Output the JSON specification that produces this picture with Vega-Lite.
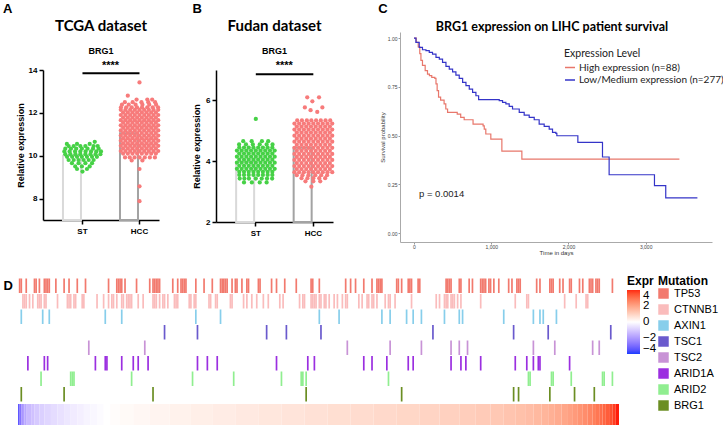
{
"$schema":"https://vega.github.io/schema/vega-lite/v6.json",
"background":"white",
"padding":{"left":3,"top":2,"right":0,"bottom":0},
"config":{"view":{"stroke":null},"font":"Liberation Sans","title":{"color":"black"}},
"datasets":{
"barsA":[{"g":"ST","v":10.0},{"g":"HCC","v":11.05}],
"ptsA":[
{"g":"ST","v":10.65,"d":[0.63]},
{"g":"ST","v":10.55,"d":[-0.8,-0.28,0.37]},
{"g":"ST","v":10.45,"d":[-0.71,-0.45,-0.11,0.15,0.57,0.78]},
{"g":"ST","v":10.33,"d":[-0.88,-0.59,-0.32,-0.03,0.26,0.54,0.83]},
{"g":"ST","v":10.2,"d":[-0.93,-0.66,-0.38,-0.11,0.16,0.44,0.71,0.95]},
{"g":"ST","v":10.07,"d":[-0.88,-0.62,-0.36,-0.11,0.15,0.41,0.67,0.92]},
{"g":"ST","v":9.95,"d":[-0.79,-0.53,-0.28,-0.03,0.23,0.49,0.74]},
{"g":"ST","v":9.8,"d":[-0.71,-0.45,-0.2,0.06,0.32,0.57]},
{"g":"ST","v":9.65,"d":[-0.54,-0.2,0.15,0.49]},
{"g":"ST","v":9.5,"d":[-0.37,-0.03,0.37]},
{"g":"ST","v":9.38,"d":[-0.28,0.23]},
{"g":"ST","v":9.26,"d":[0]},
{"g":"HCC","v":13.42,"d":[0]},
{"g":"HCC","v":12.8,"d":[-0.6]},
{"g":"HCC","v":12.62,"d":[-0.15,0.4,0.65]},
{"g":"HCC","v":12.5,"d":[-0.75,-0.35,0.1,0.45,0.8]},
{"g":"HCC","v":12.38,"d":[-0.9,-0.55,-0.2,0.15,0.5,0.85]},
{"g":"HCC","v":12.26,"d":[-0.95,-0.68,-0.4,-0.13,0.13,0.4,0.68,0.95]},
{"g":"HCC","v":12.14,"d":[-0.96,-0.72,-0.48,-0.24,0,0.24,0.48,0.72,0.96]},
{"g":"HCC","v":12.02,"d":[-0.84,-0.6,-0.36,-0.12,0.12,0.36,0.6,0.84]},
{"g":"HCC","v":11.9,"d":[-0.96,-0.72,-0.48,-0.24,0,0.24,0.48,0.72,0.96]},
{"g":"HCC","v":11.78,"d":[-0.84,-0.6,-0.36,-0.12,0.12,0.36,0.6,0.84]},
{"g":"HCC","v":11.66,"d":[-0.96,-0.72,-0.48,-0.24,0,0.24,0.48,0.72,0.96]},
{"g":"HCC","v":11.54,"d":[-0.84,-0.6,-0.36,-0.12,0.12,0.36,0.6,0.84]},
{"g":"HCC","v":11.42,"d":[-0.96,-0.72,-0.48,-0.24,0,0.24,0.48,0.72,0.96]},
{"g":"HCC","v":11.3,"d":[-0.84,-0.6,-0.36,-0.12,0.12,0.36,0.6,0.84]},
{"g":"HCC","v":11.18,"d":[-0.96,-0.72,-0.48,-0.24,0,0.24,0.48,0.72,0.96]},
{"g":"HCC","v":11.06,"d":[-0.84,-0.6,-0.36,-0.12,0.12,0.36,0.6,0.84]},
{"g":"HCC","v":10.94,"d":[-0.96,-0.72,-0.48,-0.24,0,0.24,0.48,0.72,0.96]},
{"g":"HCC","v":10.82,"d":[-0.84,-0.6,-0.36,-0.12,0.12,0.36,0.6,0.84]},
{"g":"HCC","v":10.7,"d":[-0.96,-0.72,-0.48,-0.24,0,0.24,0.48,0.72,0.96]},
{"g":"HCC","v":10.58,"d":[-0.84,-0.6,-0.36,-0.12,0.12,0.36,0.6,0.84]},
{"g":"HCC","v":10.46,"d":[-0.96,-0.72,-0.48,-0.24,0,0.24,0.48,0.72,0.96]},
{"g":"HCC","v":10.34,"d":[-0.84,-0.6,-0.36,-0.12,0.12,0.36,0.6,0.84]},
{"g":"HCC","v":10.22,"d":[-0.96,-0.72,-0.48,-0.24,0,0.24,0.48,0.72,0.96]},
{"g":"HCC","v":10.1,"d":[-0.84,-0.6,-0.36,-0.12,0.12,0.36,0.6,0.84]},
{"g":"HCC","v":9.92,"d":[-0.74,-0.5,-0.25,0,0.27,0.53,0.79]},
{"g":"HCC","v":9.78,"d":[-0.4,0.15]},
{"g":"HCC","v":9.38,"d":[0]},
{"g":"HCC","v":8.57,"d":[0]},
{"g":"HCC","v":7.88,"d":[0]}
],
"barsB":[{"g":"ST","v":3.97},{"g":"HCC","v":4.44}],
"ptsB":[
{"g":"ST","v":5.39,"d":[0]},
{"g":"ST","v":4.66,"d":[-0.64,-0.21,0.31,0.63]},
{"g":"ST","v":4.55,"d":[-0.85,-0.5,-0.15,0.2,0.55,0.85]},
{"g":"ST","v":4.45,"d":[-0.84,-0.6,-0.36,-0.12,0.12,0.36,0.6,0.84]},
{"g":"ST","v":4.35,"d":[-0.96,-0.72,-0.48,-0.24,0,0.24,0.48,0.72,0.96]},
{"g":"ST","v":4.25,"d":[-0.84,-0.6,-0.36,-0.12,0.12,0.36,0.6,0.84]},
{"g":"ST","v":4.15,"d":[-0.96,-0.72,-0.48,-0.24,0,0.24,0.48,0.72,0.96]},
{"g":"ST","v":4.05,"d":[-0.84,-0.6,-0.36,-0.12,0.12,0.36,0.6,0.84]},
{"g":"ST","v":3.95,"d":[-0.96,-0.72,-0.48,-0.24,0,0.24,0.48,0.72,0.96]},
{"g":"ST","v":3.85,"d":[-0.84,-0.6,-0.36,-0.12,0.12,0.36,0.6,0.84]},
{"g":"ST","v":3.75,"d":[-0.96,-0.72,-0.48,-0.24,0,0.24,0.48,0.72,0.96]},
{"g":"ST","v":3.65,"d":[-0.84,-0.6,-0.36,-0.12,0.12,0.36,0.6,0.84]},
{"g":"ST","v":3.55,"d":[-0.84,-0.6,-0.36,-0.12,0.12,0.36,0.6,0.84]},
{"g":"ST","v":3.43,"d":[-0.82,-0.58,-0.35,0,0.3,0.57,0.83]},
{"g":"ST","v":3.3,"d":[-0.6,-0.2,0.2,0.55]},
{"g":"HCC","v":6.1,"d":[-0.31,0.29]},
{"g":"HCC","v":5.97,"d":[-0.05]},
{"g":"HCC","v":5.77,"d":[-0.43,0.46]},
{"g":"HCC","v":5.68,"d":[-0.14]},
{"g":"HCC","v":5.62,"d":[0.2]},
{"g":"HCC","v":5.34,"d":[-0.82,-0.58,-0.33,-0.1,0.14,0.38,0.62,0.86]},
{"g":"HCC","v":5.24,"d":[-0.96,-0.72,-0.48,-0.24,0,0.24,0.48,0.72,0.96]},
{"g":"HCC","v":5.14,"d":[-0.84,-0.6,-0.36,-0.12,0.12,0.36,0.6,0.84]},
{"g":"HCC","v":5.04,"d":[-0.96,-0.72,-0.48,-0.24,0,0.24,0.48,0.72,0.96]},
{"g":"HCC","v":4.94,"d":[-0.84,-0.6,-0.36,-0.12,0.12,0.36,0.6,0.84]},
{"g":"HCC","v":4.84,"d":[-0.96,-0.72,-0.48,-0.24,0,0.24,0.48,0.72,0.96]},
{"g":"HCC","v":4.74,"d":[-0.84,-0.6,-0.36,-0.12,0.12,0.36,0.6,0.84]},
{"g":"HCC","v":4.64,"d":[-0.96,-0.72,-0.48,-0.24,0,0.24,0.48,0.72,0.96]},
{"g":"HCC","v":4.54,"d":[-0.84,-0.6,-0.36,-0.12,0.12,0.36,0.6,0.84]},
{"g":"HCC","v":4.44,"d":[-0.96,-0.72,-0.48,-0.24,0,0.24,0.48,0.72,0.96]},
{"g":"HCC","v":4.34,"d":[-0.84,-0.6,-0.36,-0.12,0.12,0.36,0.6,0.84]},
{"g":"HCC","v":4.24,"d":[-0.96,-0.72,-0.48,-0.24,0,0.24,0.48,0.72,0.96]},
{"g":"HCC","v":4.14,"d":[-0.84,-0.6,-0.36,-0.12,0.12,0.36,0.6,0.84]},
{"g":"HCC","v":4.04,"d":[-0.96,-0.72,-0.48,-0.24,0,0.24,0.48,0.72,0.96]},
{"g":"HCC","v":3.94,"d":[-0.84,-0.6,-0.36,-0.12,0.12,0.36,0.6,0.84]},
{"g":"HCC","v":3.84,"d":[-0.96,-0.72,-0.48,-0.24,0,0.24,0.48,0.72,0.96]},
{"g":"HCC","v":3.74,"d":[-0.84,-0.6,-0.36,-0.12,0.12,0.36,0.6,0.84]},
{"g":"HCC","v":3.64,"d":[-0.96,-0.72,-0.48,-0.24,0,0.24,0.48,0.72,0.96]},
{"g":"HCC","v":3.54,"d":[-0.84,-0.55,-0.25,0.1,0.4,0.7]},
{"g":"HCC","v":3.44,"d":[-0.6,-0.3,0,0.3,0.6]},
{"g":"HCC","v":3.34,"d":[-0.4,0,0.35]},
{"g":"HCC","v":3.16,"d":[-0.1]}
],
"km":[
{"grp":"High expression (n=88)","t":[0,30,55,75,90,110,145,175,200,230,270,285,300,318,345,390,412,435,560,605,650,765,895,910,930,995,1138,1397,3437],"s":[1.0,0.978,0.955,0.92,0.885,0.86,0.833,0.815,0.807,0.798,0.793,0.765,0.73,0.697,0.682,0.662,0.636,0.619,0.61,0.593,0.581,0.559,0.55,0.533,0.508,0.482,0.42,0.379,0.379]},
{"grp":"Low/Medium expression (n=277)","t":[0,25,68,110,155,198,240,285,328,370,414,457,500,543,586,630,673,716,759,802,837,1104,1147,1190,1233,1276,1363,1427,1492,1557,1621,1686,1751,1794,1837,1850,2122,2441,2527,3114,3260,3670],"s":[1.0,0.978,0.952,0.94,0.935,0.926,0.918,0.901,0.892,0.875,0.855,0.841,0.827,0.81,0.793,0.773,0.756,0.738,0.721,0.704,0.684,0.679,0.67,0.662,0.65,0.636,0.619,0.605,0.593,0.581,0.559,0.547,0.533,0.516,0.511,0.499,0.465,0.39,0.299,0.243,0.18,0.18]}
],
"mut":[
{"g":"TP53","i":[1,2,5,10,11,13,16,17,18,19,23,28,31,36,41,55,60,61,62,63,65,72,80,82,83,84,85,86,94,97,99,100,101,102,108,113,118,123,124,125,126,127,130,132,133,136,139,140,146,147,154,157,162,169,178,179,183,199,202,205,210,215,218,219,220,221,230,231,233,237,238,239,243,244,260,261,262,263,268,269,274,276,281,282,283,284,286,287,289,292,298,300,303,304,305,315,317,323,324,325,329,331,335,336,341,343,347,348,349,351,352,353,361]},
{"g":"CTNNB1","i":[3,4,5,7,9,12,13,14,16,17,24,30,31,32,34,35,39,40,48,52,55,57,58,60,63,64,66,67,68,69,73,76,82,83,84,86,88,89,91,95,96,97,104,105,107,108,116,117,120,121,129,130,137,139,142,145,149,152,159,161,171,173,174,178,179,180,181,183,184,186,187,189,192,194,197,199,200,207,209,212,213,215,216,218,223,225,226,229,239,254,256,259,260,261,263,264,265,267,269,281,302,309,310,332,339,345,346]},
{"g":"AXIN1","i":[2,15,19,53,63,108,123,183,195,221,226,236,240,245,259,268,270,295,313,317,319,327]},
{"g":"TSC1","i":[89,109,151,163,184,252,301,322,360]},
{"g":"TSC2","i":[43,77,200,226,245,263,268,273,313,326,349,353]},
{"g":"ARID1A","i":[6,16,18,47,53,54,63,70,73,79,109,115,121,157,176,180,210,215,224,237,240,263,269,272,281,302,309,313,316,317,335]},
{"g":"ARID2","i":[14,32,33,34,69,106,131,160,172,173,175,225,310,311,324,325,336,355,356,361]},
{"g":"BRG1","i":[2,28,82,175,233,301,304,323,338,350]}
],
"expr":[
{"a":0,"b":1,"e":-3.4},{"a":1,"b":2,"e":-2.8},{"a":2,"b":3,"e":-2.2},{"a":3,"b":4,"e":-1.9},{"a":4,"b":5,"e":-1.7},{"a":5,"b":6,"e":-1.5},{"a":6,"b":8,"e":-1.35},{"a":8,"b":10,"e":-1.2},{"a":10,"b":13,"e":-1.05},{"a":13,"b":16,"e":-0.92},{"a":16,"b":20,"e":-0.8},{"a":20,"b":24,"e":-0.68},{"a":24,"b":28,"e":-0.57},{"a":28,"b":32,"e":-0.47},{"a":32,"b":36,"e":-0.38},{"a":36,"b":40,"e":-0.3},{"a":40,"b":44,"e":-0.22},{"a":44,"b":48,"e":-0.15},{"a":48,"b":52,"e":-0.08},{"a":52,"b":56,"e":0},{"a":56,"b":62,"e":0.06},{"a":62,"b":70,"e":0.12},{"a":70,"b":80,"e":0.18},{"a":80,"b":92,"e":0.24},{"a":92,"b":105,"e":0.3},{"a":105,"b":118,"e":0.36},{"a":118,"b":132,"e":0.42},{"a":132,"b":146,"e":0.48},{"a":146,"b":160,"e":0.54},{"a":160,"b":174,"e":0.6},{"a":174,"b":188,"e":0.66},{"a":188,"b":202,"e":0.72},{"a":202,"b":216,"e":0.78},{"a":216,"b":230,"e":0.84},{"a":230,"b":244,"e":0.9},{"a":244,"b":256,"e":0.96},{"a":256,"b":268,"e":1.02},{"a":268,"b":278,"e":1.08},{"a":278,"b":287,"e":1.15},{"a":287,"b":295,"e":1.22},{"a":295,"b":302,"e":1.3},{"a":302,"b":308,"e":1.38},{"a":308,"b":313,"e":1.46},{"a":313,"b":318,"e":1.55},{"a":318,"b":322,"e":1.64},{"a":322,"b":326,"e":1.74},{"a":326,"b":330,"e":1.85},{"a":330,"b":334,"e":1.96},{"a":334,"b":337,"e":2.08},{"a":337,"b":340,"e":2.2},{"a":340,"b":343,"e":2.33},{"a":343,"b":346,"e":2.46},{"a":346,"b":349,"e":2.6},{"a":349,"b":351,"e":2.75},{"a":351,"b":353,"e":2.9},{"a":353,"b":355,"e":3.05},{"a":355,"b":357,"e":3.2},{"a":357,"b":359,"e":3.35},{"a":359,"b":361,"e":3.55},{"a":361,"b":363,"e":3.8},{"a":363,"b":365,"e":4.1}
]
},
"resolve":{"scale":{"color":"independent","stroke":"independent","xOffset":"independent"}},
"vconcat":[
{"resolve":{"scale":{"color":"independent","stroke":"independent","xOffset":"independent"}},
 "spacing":31,
 "hconcat":[
 {"title":{"text":"A","anchor":"start","frame":"bounds","fontSize":13,"fontWeight":"bold","font":"Liberation Sans","offset":3,"dx":-13},
  "resolve":{"scale":{"color":"independent","stroke":"independent","xOffset":"independent"}},
  "spacing":-3,
  "hconcat":[
   {"width":1,"height":1,"data":{"values":[{}]},"mark":{"type":"text","text":""},"encoding":{}},
   {"spacing":-11,
    "resolve":{"scale":{"color":"independent","stroke":"independent","xOffset":"independent"}},
    "vconcat":[
    {"width":116,"height":38,
     "title":{"text":"TCGA dataset","font":"Lato","fontSize":15,"fontWeight":"bold","offset":-2,"anchor":"middle","frame":"group"},
     "data":{"values":[{"t":"BRG1"}]},"mark":{"type":"text","fontSize":9,"fontWeight":"bold","baseline":"middle","color":"black"},
     "encoding":{"text":{"field":"t"}}},
    {"width":116,"height":150,
     "layer":[
      {"data":{"name":"barsA"},"mark":{"type":"bar","fill":"white","strokeWidth":2},
       "encoding":{
        "x":{"field":"g","type":"nominal","scale":{"domain":["ST","HCC"],"paddingInner":0.316,"paddingOuter":0.175,"align":1},"axis":{"title":null,"labelFontSize":8,"labelFontWeight":"bold","labelColor":"black","labelAngle":0,"domainColor":"black","domainWidth":1.5,"tickColor":"black","tickWidth":1.5,"tickSize":4,"labelPadding":3}},
        "y":{"field":"v","type":"quantitative","scale":{"domain":[7,14],"nice":false},"axis":{"values":[8,10,12,14],"title":"Relative expression","titleFontSize":9,"titleFontWeight":"bold","titleColor":"black","labelFontSize":8,"labelFontWeight":"bold","labelColor":"black","domainColor":"black","domainWidth":1.5,"tickColor":"black","tickWidth":1.5,"tickSize":4,"labelPadding":2,"titlePadding":3,"grid":false}},
        "y2":{"datum":7},
        "stroke":{"field":"g","type":"nominal","scale":{"domain":["ST","HCC"],"range":["#d9d9d9","#a3a3a3"]},"legend":null}}},
      {"data":{"name":"ptsA"},"transform":[{"flatten":["d"]}],"mark":{"type":"circle","size":18,"opacity":1},
       "encoding":{
        "x":{"field":"g","type":"nominal"},
        "xOffset":{"field":"d","type":"quantitative","scale":{"domain":[-1,1]}},
        "y":{"field":"v","type":"quantitative"},
        "color":{"field":"g","type":"nominal","scale":{"domain":["ST","HCC"],"range":["#46D146","#F77B7B"]},"legend":null}}},
      {"data":{"values":[{"a":"ST","b":"HCC","y":13.85}]},"mark":{"type":"rule","strokeWidth":2,"color":"black"},
       "encoding":{"x":{"field":"a","type":"nominal","bandPosition":0.5},"x2":{"field":"b","bandPosition":0.5},"y":{"field":"y","type":"quantitative"}}},
      {"data":{"values":[{"a":"HCC","y":14.2,"t":"****"}]},"mark":{"type":"text","dx":-29,"fontSize":11,"fontWeight":"bold","baseline":"middle","color":"black"},
       "encoding":{"x":{"field":"a","type":"nominal","bandPosition":0.5},"y":{"field":"y","type":"quantitative"},"text":{"field":"t"}}}
     ]}
   ]}
  ]},
 {"resolve":{"scale":{"color":"independent","stroke":"independent","xOffset":"independent"}},
  "spacing":43,
  "hconcat":[
 {"title":{"text":"B","anchor":"start","frame":"bounds","fontSize":13,"fontWeight":"bold","font":"Liberation Sans","offset":3,"dx":0},
  "resolve":{"scale":{"color":"independent","stroke":"independent","xOffset":"independent"}},
  "spacing":-11,
  "vconcat":[
   {"width":117,"height":38,
    "title":{"text":"Fudan dataset","font":"Lato","fontSize":15,"fontWeight":"bold","offset":-2,"anchor":"middle","frame":"group"},
    "data":{"values":[{"t":"BRG1"}]},"mark":{"type":"text","fontSize":9,"fontWeight":"bold","baseline":"middle","color":"black"},
    "encoding":{"text":{"field":"t"}}},
   {"width":117,"height":152,
    "layer":[
     {"data":{"name":"barsB"},"mark":{"type":"bar","fill":"white","strokeWidth":2},
      "encoding":{
       "x":{"field":"g","type":"nominal","scale":{"domain":["ST","HCC"],"paddingInner":0.316,"paddingOuter":0.175,"align":1},"axis":{"title":null,"labelFontSize":8,"labelFontWeight":"bold","labelColor":"black","labelAngle":0,"domainColor":"black","domainWidth":1.5,"tickColor":"black","tickWidth":1.5,"tickSize":4,"labelPadding":3}},
       "y":{"field":"v","type":"quantitative","scale":{"domain":[2,7],"nice":false},"axis":{"values":[2,4,6],"title":"Relative expression","titleFontSize":9,"titleFontWeight":"bold","titleColor":"black","labelFontSize":8,"labelFontWeight":"bold","labelColor":"black","domainColor":"black","domainWidth":1.5,"tickColor":"black","tickWidth":1.5,"tickSize":4,"labelPadding":2,"titlePadding":4,"grid":false}},
       "y2":{"datum":2},
       "stroke":{"field":"g","type":"nominal","scale":{"domain":["ST","HCC"],"range":["#d9d9d9","#a3a3a3"]},"legend":null}}},
     {"data":{"name":"ptsB"},"transform":[{"flatten":["d"]}],"mark":{"type":"circle","size":18,"opacity":1},
      "encoding":{
       "x":{"field":"g","type":"nominal"},
       "xOffset":{"field":"d","type":"quantitative","scale":{"domain":[-1,1]}},
       "y":{"field":"v","type":"quantitative"},
       "color":{"field":"g","type":"nominal","scale":{"domain":["ST","HCC"],"range":["#46D146","#F77B7B"]},"legend":null}}},
     {"data":{"values":[{"a":"ST","b":"HCC","y":6.86}]},"mark":{"type":"rule","strokeWidth":2,"color":"black"},
      "encoding":{"x":{"field":"a","type":"nominal","bandPosition":0.5},"x2":{"field":"b","bandPosition":0.5},"y":{"field":"y","type":"quantitative"}}},
     {"data":{"values":[{"a":"HCC","y":7.14,"t":"****"}]},"mark":{"type":"text","dx":-29,"fontSize":11,"fontWeight":"bold","baseline":"middle","color":"black"},
      "encoding":{"x":{"field":"a","type":"nominal","bandPosition":0.5},"y":{"field":"y","type":"quantitative"},"text":{"field":"t"}}}
    ]}
  ]},
 {"title":{"text":"C","anchor":"start","frame":"bounds","fontSize":13,"fontWeight":"bold","font":"Liberation Sans","offset":5,"dx":-1},
  "resolve":{"scale":{"color":"independent","stroke":"independent","xOffset":"independent"}},
  "vconcat":[{
  "width":312,"height":210,
  "title":{"text":"BRG1 expression on LIHC patient survival","font":"Lato","fontSize":12.5,"fontWeight":"bold","offset":-1,"anchor":"middle","frame":"group","dx":-4},
  "layer":[
   {"data":{"name":"km"},"transform":[{"flatten":["t","s"]}],"mark":{"type":"line","interpolate":"step-after","strokeWidth":1.2},
    "encoding":{
     "x":{"field":"t","type":"quantitative","scale":{"domain":[-181,3859],"nice":false,"zero":false},"axis":{"values":[0,1000,2000,3000],"title":"Time in days","titleFontSize":6,"titleFontWeight":"normal","titleColor":"#333","titlePadding":0,"labelFontSize":5,"labelColor":"#444","tickSize":2,"tickColor":"#999","domainColor":"#aaa","domainWidth":1,"grid":false,"labelPadding":0}},
     "y":{"field":"s","type":"quantitative","scale":{"domain":[-0.046,1.031],"nice":false,"zero":false},"axis":{"values":[0,0.25,0.5,0.75,1],"format":".2f","title":"Survival probability","titleFontSize":6,"titleFontWeight":"normal","titleColor":"#333","titlePadding":2,"labelFontSize":5,"labelColor":"#444","tickSize":2,"tickColor":"#999","domainColor":"#aaa","domainWidth":1,"grid":false,"labelPadding":1}},
     "color":{"field":"grp","type":"nominal","scale":{"domain":["High expression (n=88)","Low/Medium expression (n=277)"],"range":["#E8776B","#3434C8"]},
      "legend":{"title":"Expression Level","orient":"none","legendX":164,"legendY":17,"symbolType":"stroke","symbolStrokeWidth":1.5,"symbolSize":100,"titleFont":"Lato","titleFontSize":10.5,"titleFontWeight":"normal","titleColor":"#222","labelFont":"Lato","labelFontSize":10,"labelColor":"#222","rowPadding":1.5,"titlePadding":2,"labelOffset":3,"labelLimit":300}}}},
   {"data":{"values":[{"t":65,"s":0.2,"p":"p = 0.0014"}]},"mark":{"type":"text","align":"left","baseline":"middle","fontSize":9.5,"color":"#222"},
    "encoding":{"x":{"field":"t","type":"quantitative"},"y":{"field":"s","type":"quantitative"},"text":{"field":"p"}}}
  ]}]}
 ]}
 ]},
{"resolve":{"scale":{"color":"independent","stroke":"independent","xOffset":"independent"}},
 "bounds":"flush",
 "vconcat":[
  {"width":601,"height":124,
   "layer":[
    {"data":{"name":"mut"},"transform":[{"flatten":["i"]}],"mark":{"type":"tick","thickness":1.7,"size":14.5,"opacity":1},
     "encoding":{
      "x":{"field":"i","type":"quantitative","scale":{"domain":[0,365],"nice":false,"zero":false},"axis":null},
      "y":{"field":"g","type":"nominal","scale":{"domain":["TP53","CTNNB1","AXIN1","TSC1","TSC2","ARID1A","ARID2","BRG1"],"paddingInner":0,"paddingOuter":0},
           "axis":{"title":"D","titleAngle":0,"titleX":-15,"titleY":1,"titleAlign":"left","titleBaseline":"top","titleFontSize":13,"titleFontWeight":"bold","titleColor":"black","labels":false,"ticks":false,"domain":false,"grid":false}},
      "color":{"field":"g","type":"nominal","scale":{"domain":["TP53","CTNNB1","AXIN1","TSC1","TSC2","ARID1A","ARID2","BRG1"],"range":["#F27A6E","#FABCBC","#87CEEB","#6A5ACD","#C893D6","#9B2FE0","#90EE90","#6B8E23"]},
       "legend":{"title":"Mutation","orient":"none","legendX":640,"legendY":-2,"symbolType":"square","symbolSize":110,"symbolStrokeWidth":0,"symbolOpacity":1,"labelFontSize":11,"labelColor":"black","titleFontSize":12,"titleFontWeight":"bold","titleColor":"black","rowPadding":4,"titlePadding":0,"labelOffset":5}}}},
    {"data":{"name":"expr"},"mark":{"type":"text","text":""},
     "encoding":{
      "x":{"field":"a","type":"quantitative"},
      "color":{"field":"e","type":"quantitative","scale":{"type":"linear","domain":[-4,0,4],"range":["#1A3CFF","#FFFFFF","#FF2A12"],"interpolate":"lab"},
       "legend":{"title":"Expr","orient":"none","legendX":609,"legendY":-2,"direction":"vertical","gradientLength":64,"gradientThickness":13,"values":[-4,-2,0,2,4],"labelOverlap":false,"labelFontSize":11.5,"labelColor":"black","titleFontSize":12,"titleFontWeight":"bold","titleColor":"black","titlePadding":2,"gradientStrokeWidth":0,"labelOffset":3}}}}
   ],
   "resolve":{"scale":{"color":"independent"}}},
  {"width":601,"height":21,"data":{"name":"expr"},"mark":"rect",
   "encoding":{
    "x":{"field":"a","type":"quantitative","scale":{"domain":[0,365],"nice":false,"zero":false},"axis":null},
    "x2":{"field":"b"},
    "color":{"field":"e","type":"quantitative","scale":{"type":"linear","domain":[-4,0,4],"range":["#1A3CFF","#FFFFFF","#FF2A12"],"interpolate":"lab"},"legend":null}}}
 ],"spacing":2}
],
"spacing":21
}
